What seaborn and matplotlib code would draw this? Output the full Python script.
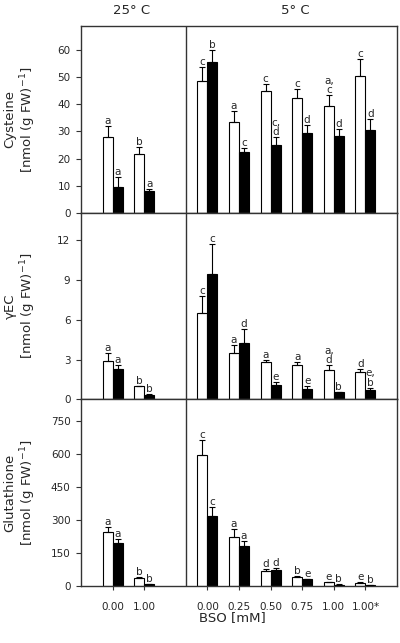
import pandas as pd
import matplotlib.pyplot as plt
import seaborn as sns

# group positions on the x axis (25 C: 0,1 / 5 C: 3..8) and their labels
positions = [0, 1, 3, 4, 5, 6, 7, 8]
bso_labels = ['0.00', '1.00', '0.00', '0.25', '0.50', '0.75', '1.00', '1.00*']
series = ['Series 1', 'Series 2']

# Cysteine
cys_white = [28.1, 21.8, 48.5, 33.4, 44.8, 42.3, 39.5, 50.5]
cys_white_se = [3.9, 2.5, 5.4, 4.2, 2.9, 3.3, 3.8, 6.2]
cys_black = [9.5, 7.9, 55.5, 22.4, 24.9, 29.5, 28.3, 30.6]
cys_black_se = [3.7, 0.9, 4.7, 1.6, 3.1, 2.8, 2.8, 4.0]
cys_white_let = ['a', 'b', 'c', 'a', 'c', 'c', 'a,\nc', 'c']
cys_black_let = ['a', 'a', 'b', 'c', 'c,\nd', 'd', 'd', 'd']

# gamma-EC
gec_white = [2.88, 0.98, 6.49, 3.50, 2.82, 2.60, 2.19, 2.09]
gec_white_se = [0.63, 0.05, 1.30, 0.58, 0.18, 0.25, 0.38, 0.18]
gec_black = [2.28, 0.35, 9.44, 4.23, 1.11, 0.81, 0.54, 0.71]
gec_black_se = [0.28, 0.03, 2.26, 1.10, 0.21, 0.18, 0.05, 0.18]
gec_white_let = ['a', 'b', 'c', 'a', 'a', 'a', 'a,\nd', 'd']
gec_black_let = ['a', 'b', 'c', 'd', 'e', 'e', 'b', 'e,\nb']

# Glutathione
gsh_white = [245, 35, 596, 225, 67, 41, 17, 15]
gsh_white_se = [23, 6, 69, 37, 9, 6, 3, 3]
gsh_black = [198, 9, 319, 183, 74, 31, 6, 5]
gsh_black_se = [18, 1, 40, 24, 7, 2, 2, 1]
gsh_white_let = ['a', 'b', 'c', 'a', 'd', 'b', 'e', 'e']
gsh_black_let = ['a', 'b', 'c', 'a', 'd', 'e', 'b', 'b']

panels = [
    ('Cysteine\n[nmol (g FW)$^{-1}$]', cys_white, cys_white_se, cys_black, cys_black_se,
     cys_white_let, cys_black_let, 69, range(0, 61, 10)),
    ('γEC\n[nmol (g FW)$^{-1}$]', gec_white, gec_white_se, gec_black, gec_black_se,
     gec_white_let, gec_black_let, 14.05, range(0, 13, 3)),
    ('Glutathione\n[nmol (g FW)$^{-1}$]', gsh_white, gsh_white_se, gsh_black, gsh_black_se,
     gsh_white_let, gsh_black_let, 851, range(0, 751, 150)),
]

sns.set_style('ticks')
plt.rcParams['font.family'] = ['DejaVu Sans']
frame = '#333333'

fig = plt.figure(figsize=(4, 6.43), dpi=100)
bottoms = [0.6692, 0.3787, 0.0886]

for i, (label, w, wse, b, bse, wlet, blet, ytop, yt) in enumerate(panels):
    ax = fig.add_axes([0.2025, bottoms[i], 0.79, 0.2905])
    df = pd.DataFrame({
        'pos': positions + positions,
        'series': [series[0]] * 8 + [series[1]] * 8,
        'value': w + b,
    })
    sns.barplot(data=df, x='pos', y='value', hue='series', hue_order=series,
                native_scale=True, palette={series[0]: 'white', series[1]: 'black'},
                width=0.63, edgecolor='black', linewidth=0.8, errorbar=None,
                saturation=1, legend=False, ax=ax)

    for cont, means, ses, lets in zip(ax.containers, [w, b], [wse, bse], [wlet, blet]):
        for patch, m, s, let in zip(cont.patches, means, ses, lets):
            x = patch.get_x() + patch.get_width() / 2
            ax.errorbar(x, m, yerr=[[0], [s]], fmt='none', ecolor='black',
                        elinewidth=0.8, capsize=2.2, capthick=0.8, zorder=3)
            ax.annotate(let, (x, m + s), xytext=(0, 0), textcoords='offset points',
                        ha='center', va='bottom', fontsize=7.5, linespacing=0.9)

    ax.axvline(2.33, color=frame, lw=1)
    ax.set_xlim(-1, 9)
    ax.set_ylim(0, ytop)
    ax.set_yticks(list(yt))
    ax.set_ylabel(label, fontsize=9.5, linespacing=1.15)
    ax.yaxis.set_label_coords(-0.136, 0.5)
    ax.tick_params(axis='y', direction='out', length=3.6, width=0.8, pad=4,
                   labelsize=7.5, color=frame)
    if i == 2:
        ax.set_xticks(positions)
        ax.set_xticklabels(bso_labels)
        ax.tick_params(axis='x', direction='out', length=3, width=0.8, pad=8.5,
                       labelsize=7.5, color=frame)
    else:
        ax.set_xticks([])
    ax.set_xlabel('')
    for sp in ax.spines.values():
        sp.set_visible(True)
        sp.set_color(frame)
        sp.set_linewidth(1)

fig.text(0.328, 0.984, '25° C', ha='center', va='center', fontsize=9.5)
fig.text(0.7375, 0.984, '5° C', ha='center', va='center', fontsize=9.5)
fig.text(0.58, 0.039, 'BSO [mM]', ha='center', va='center', fontsize=9.5)

fig.savefig('out.png', dpi=100)
